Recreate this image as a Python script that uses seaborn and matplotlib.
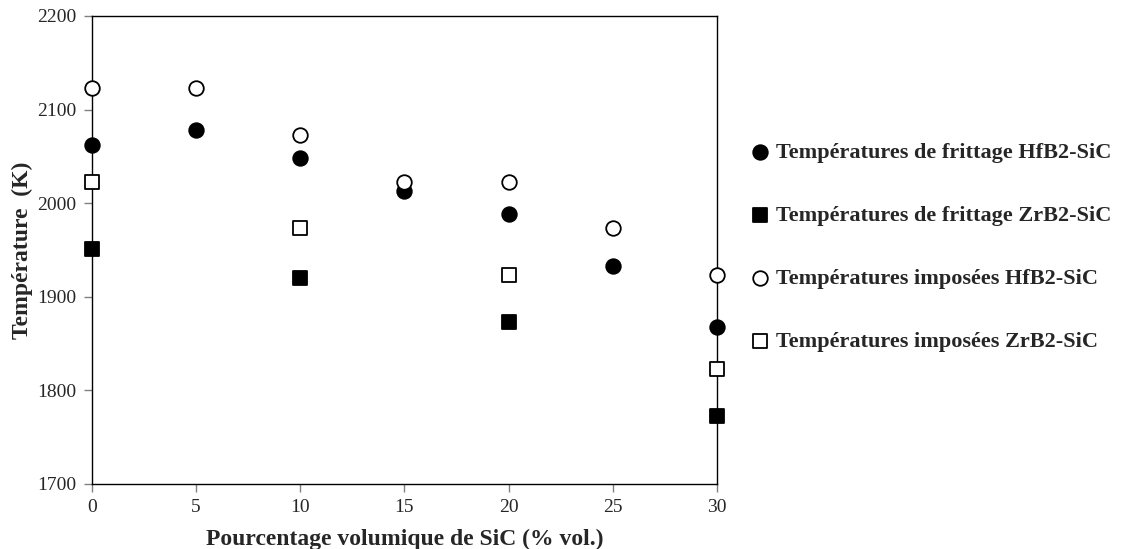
import matplotlib
matplotlib.use("Agg")
import matplotlib.pyplot as plt
import seaborn as sns
import pandas as pd

x_hf = [0, 5, 10, 15, 20, 25, 30]
x_zr = [0, 10, 20, 30]
frittage_hf = [2062, 2078, 2048, 2013, 1988, 1933, 1868]
frittage_zr = [1951, 1920, 1873, 1773]
imposees_hf = [2123, 2123, 2073, 2023, 2023, 1973, 1923]
imposees_zr = [2023, 1973, 1923, 1823]
labels = ["Températures de frittage HfB2-SiC",
          "Températures de frittage ZrB2-SiC",
          "Températures imposées HfB2-SiC",
          "Températures imposées ZrB2-SiC"]

sns.set_style("white")
plt.rcParams['font.family'] = ['Liberation Serif', 'DejaVu Serif']

fig = plt.figure(figsize=(11.21, 5.49), dpi=100)
ax = fig.add_axes([0.082, 0.1184, 0.5576, 0.8526])

series = [
    (x_hf, frittage_hf, labels[0], 'o', 'black'),
    (x_zr, frittage_zr, labels[1], 's', 'black'),
    (x_hf, imposees_hf, labels[2], 'o', 'white'),
    (x_zr, imposees_zr, labels[3], 's', 'white'),
]
for xs, ys, lab, mk, fc in series:
    df = pd.DataFrame({"x": xs, "y": ys})
    sns.scatterplot(data=df, x="x", y="y", ax=ax, marker=mk, s=110,
                    facecolor=fc, edgecolor='black', linewidth=1.3,
                    label=lab, zorder=3, clip_on=False)

ax.set_xlim(0, 30)
ax.set_ylim(1700, 2200)
ax.set_xticks([0, 5, 10, 15, 20, 25, 30])
ax.set_yticks([1700, 1800, 1900, 2000, 2100, 2200])
ax.tick_params(axis='both', which='major', direction='out', length=6,
               width=1, color='#808080', labelsize=14, left=True, bottom=True,
               pad=5)
for sp in ax.spines.values():
    sp.set_color('black')
    sp.set_linewidth(1)
ax.set_xlabel("Pourcentage volumique de SiC (% vol.)", fontsize=17,
              fontweight='bold', labelpad=9)
ax.set_ylabel("Température  (K)", fontsize=17, fontweight='bold', labelpad=3)

leg = ax.legend(loc='center left', bbox_to_anchor=(1.015, 0.506), frameon=False,
                prop={'family': 'Liberation Serif', 'weight': 'bold', 'size': 16},
                labelspacing=1.9, handletextpad=0.15, markerscale=1.0,
                handlelength=1.2)

fig.savefig("out.png", dpi=100)
